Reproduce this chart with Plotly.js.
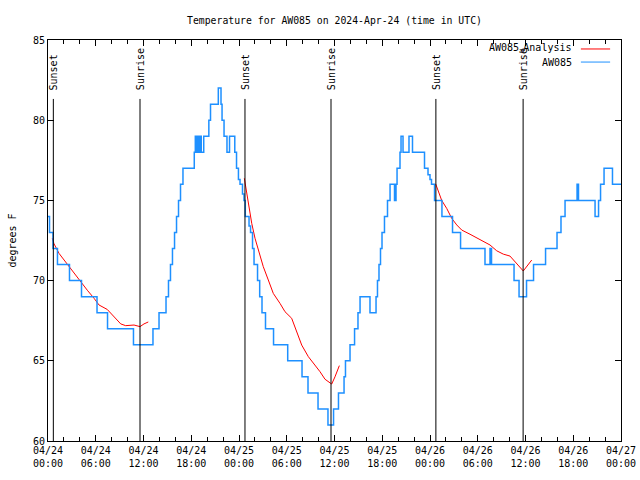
<!DOCTYPE html>
<html>
<head>
<meta charset="utf-8">
<script src="https://cdn.plot.ly/plotly-3.0.1.min.js"></script>
<style>html,body{margin:0;padding:0;background:#fff}#chart{width:640px;height:480px}</style>
</head>
<body>
<div id="chart"></div>
<script>
// Hours after 2024-04-24 00:00 UTC
var stationHours = [0,0.19,0.63,1.19,2.70,4.21,6.16,7.48,10.74,13.19,13.95,14.83,15.14,15.39,15.64,15.90,16.15,16.40,16.65,16.96,18.38,18.51,18.64,18.76,18.94,19.10,19.26,19.57,20.21,20.42,21.40,21.74,21.87,22.12,22.49,22.81,23.47,23.69,23.93,24.13,24.44,24.63,24.79,25.26,25.45,25.70,25.89,26.33,26.60,26.89,27.33,28.34,30.12,31.92,32.67,33.93,35.18,35.88,36.50,37.20,37.38,37.95,38.52,38.95,39.21,40.46,41.22,41.40,41.59,41.78,41.97,42.28,42.66,42.98,43.54,43.73,43.86,44.23,44.36,44.61,45.36,45.80,47.31,47.75,48.00,48.19,48.57,49.50,50.83,51.84,54.91,55.54,55.73,58.56,59.19,60.13,61.01,62.52,63.96,64.46,64.97,66.48,66.66,68.74,69.18,69.43,69.87,70.93,72.0];
var stationTemps = [74,73,72,71,70,69,68,67,66,67,68,69,70,71,72,73,74,75,76,77,78,79,78,79,78,79,78,79,80,81,82,81,80,79,78,79,78,77,76.3,76,75.4,75,74,73.4,73,72,71,70,69,68,67,66,65,64,63,62,61,62,63,64,65,66,67,68,69,68,69,70,71,72,73,74,75,76,75,76,77,78,79,78,79,78,77,76.6,76.3,76,75,74,73,72,71,72,71,70,69,70,71,72,73,74,75,76,75,74,75,76,77,76,76];

var analysisHours1 = [0.54,0.75,1.38,2.01,2.64,3.27,4.11,4.94,5.78,6.41,7.45,8.29,9.14,9.76,10.81,11.56,12.06,12.60];
var analysisTemps1 = [72.64,72.3,71.7,71.28,70.87,70.45,69.93,69.4,68.9,68.48,68.2,67.75,67.3,67.19,67.23,67.13,67.3,67.42];
var analysisHours2 = [24.67,24.97,25.17,25.60,26.01,26.43,27.05,27.68,28.31,29.15,29.78,30.62,31.25,31.88,32.71,33.55,34.18,34.81,35.65,36.06,36.61];
var analysisTemps2 = [76.38,75.44,74.8,73.57,72.64,71.9,70.87,70.04,69.2,68.58,68.06,67.65,66.82,65.98,65.26,64.74,64.32,63.85,63.55,64.0,64.7];
var analysisHours3 = [48.72,49.04,49.47,50.10,50.73,51.36,51.99,53.03,54.29,55.54,56.38,57.21,58.05,58.68,59.72,60.78];
var analysisTemps3 = [76.02,75.54,75.0,74.5,73.88,73.47,73.15,72.89,72.53,72.22,71.86,71.65,71.53,71.18,70.6,71.28];

var sunEventHours = [0.67,11.56,24.75,35.56,48.74,59.70];
var sunEventLabels = ["Sunset","Sunrise","Sunset","Sunrise","Sunset","Sunrise"];

var seriesNames = ["AW085_Analysis","AW085"];
var legendLabels = ["AW085<sub>a</sub>Analysis","AW085"];
var titleText = "Temperature for AW085 on 2024-Apr-24 (time in UTC)";
var yTitle = "degrees F";

var base = Date.UTC(2024,3,24);
function toTime(h){ return new Date(base + Math.round(h*3600000)).toISOString().slice(0,19).replace('T',' '); }

var ax = [], ay = [];
[[analysisHours1,analysisTemps1],[analysisHours2,analysisTemps2],[analysisHours3,analysisTemps3]].forEach(function(seg,i){
  if(i>0){ ax.push(null); ay.push(null); }
  seg[0].forEach(function(h,j){ ax.push(toTime(h)); ay.push(seg[1][j]); });
});

var FONT = "DejaVu Sans Mono, monospace";
var RED = "#ff0000", BLUE = "#1e90ff";

var traces = [
  {x: ax, y: ay, type:'scatter', mode:'lines', name: seriesNames[0], line:{color:RED, width:1}, connectgaps:false, showlegend:false},
  {x: stationHours.map(toTime), y: stationTemps, type:'scatter', mode:'lines', name: seriesNames[1], line:{color:BLUE, width:1.5, shape:'hv'}, showlegend:false}
];

var shapes = [], annotations = [];
sunEventHours.forEach(function(h,i){
  shapes.push({type:'line', xref:'x', yref:'paper', x0:toTime(h), x1:toTime(h), y0:0, y1:0.853, line:{color:'#000', width:1}});
  annotations.push({xref:'x', yref:'paper', x:toTime(h), y:0.870, text:sunEventLabels[i], textangle:-90, showarrow:false, xanchor:'center', yanchor:'bottom', font:{family:FONT, size:10, color:'#000'}});
});
// legend (gnuplot style: text then line sample)
var legColors = [RED, BLUE];
var legY = [0.9776, 0.945];
legendLabels.forEach(function(t,i){
  annotations.push({xref:'paper', yref:'paper', x:0.918, y:legY[i], text:t, showarrow:false, xanchor:'right', yanchor:'middle', font:{family:FONT, size:10, color:'#000'}});
  shapes.push({type:'line', xref:'paper', yref:'paper', x0:0.930, x1:0.981, y0:legY[i], y1:legY[i], line:{color:legColors[i], width:1}});
});

var layout = {
  width:640, height:480,
  margin:{l:48, r:19, t:40, b:39},
  paper_bgcolor:'#fff', plot_bgcolor:'#fff',
  font:{family:FONT, size:10, color:'#000'},
  title:{text:titleText, x:0.5, xref:'paper', y:0.958, yref:'container', yanchor:'middle', font:{family:FONT, size:9.8, color:'#000'}},
  showlegend:false,
  xaxis:{type:'date', range:[toTime(0), toTime(72)], dtick:6*3600000, tick0:toTime(0), tickformat:'%m/%d<br>%H:%M',
    ticks:'inside', ticklen:6, tickcolor:'#000', mirror:'allticks', showline:true, linecolor:'#000', linewidth:1,
    showgrid:false, zeroline:false, tickfont:{family:FONT, size:10, color:'#000'},
    minor:{dtick:2*3600000, ticks:'inside', ticklen:4, tickcolor:'#000', showgrid:false}},
  yaxis:{range:[60,85], dtick:5, ticks:'inside', ticklen:6, tickcolor:'#000', mirror:'allticks', showline:true, linecolor:'#000', linewidth:1,
    showgrid:false, zeroline:false, tickfont:{family:FONT, size:10, color:'#000'},
    title:{text:yTitle, standoff:14, font:{family:FONT, size:10, color:'#000'}}},
  shapes:shapes, annotations:annotations
};

Plotly.newPlot('chart', traces, layout, {staticPlot:true, displayModeBar:false});
</script>
</body>
</html>
